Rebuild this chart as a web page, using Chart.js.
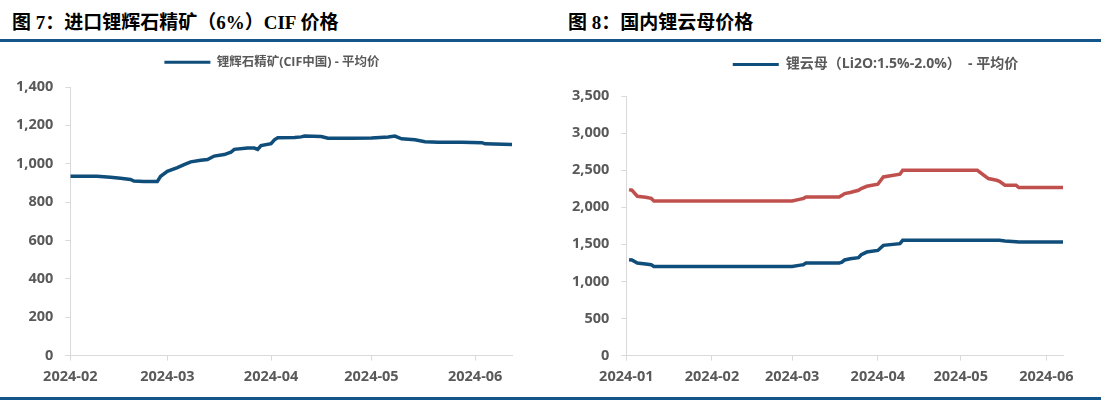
<!DOCTYPE html>
<html>
<head>
<meta charset="utf-8">
<script src="https://cdn.jsdelivr.net/npm/chart.js@4.4.1/dist/chart.umd.min.js"></script>
<style>
  html, body { margin: 0; padding: 0; background: #fff; overflow: hidden; }
  body { width: 1104px; height: 401px; position: relative; }
  .title { position: absolute; top: 7px; font: 700 19px 'Liberation Serif', 'Noto Sans CJK SC', serif; color: #000; white-space: nowrap; }
  .rule { position: absolute; left: 0; width: 1101px; height: 3px; background: #14568A; }
  .box { position: absolute; }
</style>
</head>
<body>
<div class="title" style="left:12px">图 7：进口锂辉石精矿（6%）CIF 价格</div>
<div class="title" style="left:568px">图 8：国内锂云母价格</div>
<div class="rule" style="top:39px"></div>
<div class="rule" style="top:397px"></div>
<div class="box" style="left:0;top:44px;width:545px;height:350px"><canvas id="c1"></canvas></div>
<div class="box" style="left:556px;top:44px;width:548px;height:350px"><canvas id="c2"></canvas></div>
<script>
// 图7 锂辉石精矿 CIF 中国 平均价 (美元/吨)
const months1 = ['2024-02', '2024-03', '2024-04', '2024-05', '2024-06'];
const dates1 = ['2024-02-01','2024-02-05','2024-02-09','2024-02-13','2024-02-16','2024-02-19','2024-02-20','2024-02-23','2024-02-27','2024-02-28',
  '2024-03-01','2024-03-04','2024-03-06','2024-03-08','2024-03-11','2024-03-13','2024-03-15','2024-03-18','2024-03-20','2024-03-21',
  '2024-03-25','2024-03-27','2024-03-28','2024-03-29','2024-04-01','2024-04-02','2024-04-03','2024-04-08','2024-04-10','2024-04-11',
  '2024-04-16','2024-04-18','2024-04-25','2024-05-01','2024-05-06','2024-05-08','2024-05-10','2024-05-14','2024-05-17','2024-05-21',
  '2024-05-28','2024-06-03','2024-06-04','2024-06-12'];
const spodumene = [935, 935, 935, 930, 924, 918, 910, 908, 908, 935,
  960, 980, 995, 1010, 1018, 1022, 1040, 1048, 1060, 1075,
  1082, 1082, 1075, 1095, 1105, 1125, 1135, 1137, 1140, 1144,
  1142, 1133, 1133, 1134, 1140, 1144, 1130, 1125, 1115, 1112,
  1112, 1110, 1104, 1100];

// 图8 锂云母 (Li2O:1.5%-2.0%) 平均价 + 高品位
const months2 = ['2024-01', '2024-02', '2024-03', '2024-04', '2024-05', '2024-06'];
const dates2 = ['2024-01-02','2024-01-03','2024-01-05','2024-01-08','2024-01-10','2024-01-11','2024-01-31','2024-02-29','2024-03-01','2024-03-04',
  '2024-03-05','2024-03-06','2024-03-18','2024-03-19','2024-03-20','2024-03-22','2024-03-25','2024-03-26','2024-03-28','2024-04-01',
  '2024-04-03','2024-04-09','2024-04-10','2024-05-07','2024-05-11','2024-05-14','2024-05-15','2024-05-17','2024-05-21','2024-05-22',
  '2024-06-07'];
const micaAvg = [1293, 1290, 1247, 1235, 1225, 1202, 1202, 1202, 1202, 1220,
  1225, 1247, 1247, 1260, 1290, 1305, 1320, 1360, 1396, 1418,
  1486, 1509, 1554, 1554, 1554, 1554, 1554, 1545, 1535, 1531,
  1531];
const micaHigh = [2238, 2230, 2148, 2135, 2120, 2085, 2085, 2085, 2085, 2110,
  2117, 2139, 2139, 2160, 2184, 2200, 2229, 2252, 2283, 2310,
  2409, 2445, 2499, 2499, 2387, 2364, 2350, 2297, 2297, 2265,
  2265];

const BLUE = '#0F4D7A';
const RED = '#C0504D';
const GREY = '#595959';
const FONT = "'Open Sans', 'Noto Sans CJK SC', sans-serif";

// 天数 (自 2024-01-01 起)
function dayNo(s) {
  const p = s.split('-').map(Number);
  return (Date.UTC(p[0], p[1] - 1, p[2] || 1) - Date.UTC(2024, 0, 1)) / 86400000;
}
function toPoints(dates, vals) {
  return dates.map((d, i) => ({ x: dayNo(d), y: vals[i] }));
}

// 图例下方留白 + 图例水平偏移
function legendPos(gap, shift) {
  return {
    id: 'legendPos',
    beforeInit(chart) {
      const legend = chart.legend;
      const fit = legend.fit;
      legend.fit = function () {
        fit.call(this);
        this.height += gap;
      };
    },
    afterLayout(chart) {
      chart.legend.left += shift;
      chart.legend.right += shift;
    }
  };
}

function makeOptions(cfg) {
  const monthDays = cfg.months.map(dayNo);
  const tickFont = { family: FONT, size: 14.5, weight: 'bold' };
  return {
    responsive: true,
    maintainAspectRatio: false,
    animation: false,
    layout: { padding: cfg.pad },
    plugins: {
      tooltip: { enabled: false },
      legend: {
        position: 'top',
        labels: {
          color: GREY,
          font: { family: FONT, size: cfg.legendSize, weight: 'bold' },
          boxWidth: 46,
          boxHeight: 3,
          padding: 10,
          filter: item => item.datasetIndex === 0,
          generateLabels: chart => Chart.defaults.plugins.legend.labels.generateLabels(chart)
            .map(l => Object.assign(l, { lineWidth: 0, fillStyle: l.strokeStyle }))
        }
      }
    },
    scales: {
      x: {
        type: 'linear',
        min: monthDays[0],
        max: dayNo(cfg.lastDate),
        grid: { drawOnChartArea: false, drawTicks: true, tickLength: 5, color: '#D9D9D9' },
        border: { color: '#D9D9D9', width: 1 },
        afterBuildTicks: axis => { axis.ticks = monthDays.map(v => ({ value: v })); },
        ticks: {
          autoSkip: false,
          maxRotation: 0,
          padding: 8,
          color: GREY,
          font: tickFont,
          callback: v => cfg.months[monthDays.indexOf(v)]
        }
      },
      y: {
        min: 0,
        max: cfg.yMax,
        grid: { drawOnChartArea: false, drawTicks: true, tickLength: 5, color: '#D9D9D9' },
        border: { color: '#D9D9D9', width: 1 },
        ticks: {
          stepSize: cfg.yStep,
          padding: 12,
          color: GREY,
          font: tickFont,
          callback: v => v.toLocaleString('en-US')
        }
      }
    }
  };
}

new Chart(document.getElementById('c1'), {
  type: 'line',
  data: {
    datasets: [{
      label: '锂辉石精矿(CIF中国) - 平均价',
      data: toPoints(dates1, spodumene),
      borderColor: BLUE,
      backgroundColor: BLUE,
      borderWidth: 3.5,
      pointRadius: 0,
      tension: 0
    }]
  },
  options: makeOptions({
    months: months1, lastDate: dates1[dates1.length - 1], yMax: 1400, yStep: 200,
    legendSize: 12.5, pad: { left: 4, right: 33, top: 2, bottom: 0 }
  }),
  plugins: [legendPos(8.5, 14)]
});

new Chart(document.getElementById('c2'), {
  type: 'line',
  data: {
    datasets: [{
      label: '锂云母（Li2O:1.5%-2.0%）  - 平均价',
      data: toPoints(dates2, micaAvg),
      borderColor: BLUE,
      backgroundColor: BLUE,
      borderWidth: 3.5,
      pointRadius: 0,
      tension: 0
    }, {
      label: '锂云母（Li2O:2.0%-2.5%） - 平均价',
      data: toPoints(dates2, micaHigh),
      borderColor: RED,
      backgroundColor: RED,
      borderWidth: 3.5,
      pointRadius: 0,
      tension: 0
    }]
  },
  options: makeOptions({
    months: months2, lastDate: dates2[dates2.length - 1], yMax: 3500, yStep: 500,
    legendSize: 14, pad: { left: 4, right: 41, top: 3.5, bottom: 0 }
  }),
  plugins: [legendPos(14.5, 64)]
});
</script>
</body>
</html>
